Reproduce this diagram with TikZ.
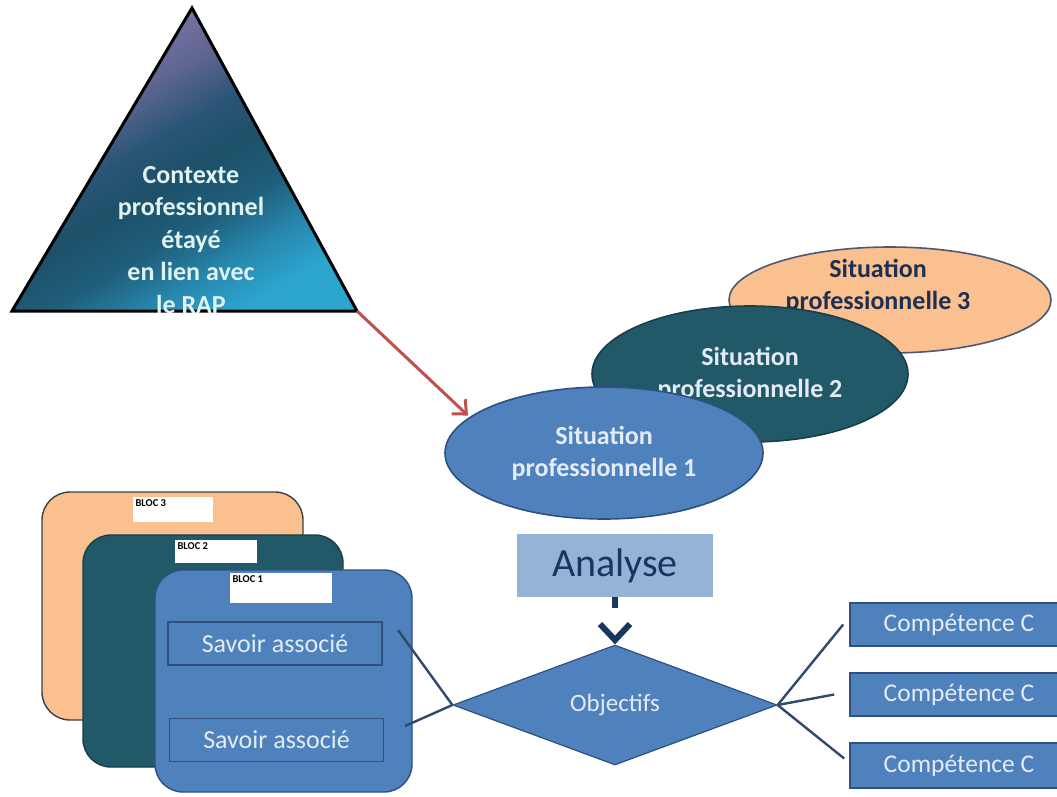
\documentclass[tikz,border=0pt]{standalone}
\usepackage{fontspec}
\setmainfont{Carlito}
\usetikzlibrary{shapes.geometric,arrows.meta}
\definecolor{orangeA}{HTML}{FAC090}
\definecolor{tealA}{HTML}{215968}
\definecolor{blueA}{HTML}{4F81BD}
\definecolor{blueB}{HTML}{2F5080}
\definecolor{lightA}{HTML}{95B3D7}
\definecolor{navyA}{HTML}{17375E}
\definecolor{navyB}{HTML}{1F2F50}
\definecolor{lineA}{HTML}{2F4A6B}
\definecolor{redA}{HTML}{C0504D}
\definecolor{txtA}{HTML}{E3ECF6}
\definecolor{txtTri}{HTML}{E0F2F2}
\definecolor{shA}{HTML}{2CA6CF}
\definecolor{shB}{HTML}{2889B0}
\definecolor{shC}{HTML}{1F5E7A}
\definecolor{shD}{HTML}{1D5069}
\definecolor{shE}{HTML}{2A5576}
\definecolor{shF}{HTML}{5F6690}
\definecolor{shG}{HTML}{7D74A8}
\definecolor{shH}{HTML}{8078AA}
\pgfdeclareverticalshading{trishade}{100bp}{color(0bp)=(shA); color(25bp)=(shA); color(32bp)=(shB); color(40bp)=(shC); color(48bp)=(shD); color(55bp)=(shE); color(63bp)=(shF); color(72bp)=(shG); color(75bp)=(shH); color(100bp)=(shH)}
\begin{document}
\begin{tikzpicture}[x=1pt,y=-1pt,
  ell/.style={ellipse, draw, line width=1.6pt, inner sep=0pt},
  etxt/.style={align=center, font=\bfseries\fontsize{26}{32}\selectfont},
  blocbox/.style={rectangle, rounded corners=28pt, line width=1.4pt, inner sep=0pt},
  blabel/.style={rectangle, fill=white, inner sep=0pt},
  btxt/.style={font=\bfseries\fontsize{10.5}{11}\selectfont, text=black, inner sep=2.5pt, anchor=north west},
  sbox/.style={rectangle, fill=blueA, draw=blueB, line width=1.6pt, inner sep=0pt, minimum width=214pt, minimum height=43pt, text=txtA, font=\fontsize{26}{30}\selectfont},
  cbox/.style={rectangle, fill=blueA, draw=blueB, line width=1.6pt, inner sep=0pt, minimum width=218pt, minimum height=43pt, text=txtA, font=\fontsize{25.5}{28}\selectfont},
  conn/.style={draw=lineA, line width=2.4pt}]
\useasboundingbox (0,0) rectangle (1057,796);
\clip (0,0) rectangle (1057,796);
\fill[white] (0,0) rectangle (1057,796);

% blocs
\node[blocbox, fill=orangeA, draw=black!75, minimum width=261pt, minimum height=228pt] (b3) at (172.5,606) {};
\node[blabel, minimum width=80pt, minimum height=25pt, label={[btxt]north west:BLOC 3}] (lab3) at (173,509.5) {};
\node[blocbox, fill=tealA, draw=tealA!70!black, minimum width=260pt, minimum height=232pt] (b2) at (213,651) {};
\node[blabel, minimum width=82pt, minimum height=23pt, label={[btxt]north west:BLOC 2}] (lab2) at (216,551.5) {};
\node[blocbox, fill=blueA, draw=blueB, minimum width=257pt, minimum height=222pt] (b1) at (283.5,681) {};
\node[blabel, minimum width=102pt, minimum height=30pt, label={[btxt]north west:BLOC 1}] (lab1) at (281,588) {};
\node[sbox] (sa1) at (275,643.5) {Savoir associé};
\node[sbox] (sa2) at (276.5,740) {Savoir associé};

% ellipses
\node[ell, fill=orangeA, draw=navyB!80, minimum width=322pt, minimum height=106pt] (e3) at (890,300) {};
\node[etxt, text=navyB] (e3t) at (878,286) {Situation\\professionnelle 3};
\node[ell, etxt, fill=tealA, draw=tealA!70!black, text=txtA, minimum width=316pt, minimum height=136pt] (e2) at (750,374) {Situation\\professionnelle 2};
\node[ell, etxt, fill=blueA, draw=blueB, text=txtA, minimum width=318pt, minimum height=132pt] (e1) at (604,453) {Situation\\professionnelle 1};

% triangle
\coordinate (triL) at (12,311);
\coordinate (triT) at (192,8);
\coordinate (triR) at (357,311);
\shade[shading=trishade, shading angle=30] (triL) -- (triT) -- (triR) -- cycle;
\draw[black, line width=3pt, line join=miter] (triL) -- (triT) -- (triR) -- cycle;
\node[align=center, text=txtTri, font=\bfseries\fontsize{26}{32.5}\selectfont] (tri) at (191,240) {Contexte\\professionnel\\étayé\\en lien avec\\le RAP};

\draw[redA, line width=3pt, -{Straight Barb[length=11pt, width=20pt]}, shorten >=2pt] (triR) -- (e1.165);

% analyse
\node[rectangle, fill=lightA, inner sep=0pt, minimum width=196pt, minimum height=63pt, text=navyA, font=\fontsize{40}{42}\selectfont] (an) at (615,565.5) {Analyse};

% objectifs
\coordinate (la) at (398,630);
\coordinate (lb) at (405,726);
\node[diamond, fill=blueA, draw=blueB, line width=1.2pt, minimum width=324pt, minimum height=120pt, inner sep=0pt, aspect=2.7, text=txtA, font=\fontsize{25}{28}\selectfont] (obj) at (615,705) {Objectifs};

\node[cbox] (c1) at (959,624.5) {Compétence C};
\node[cbox] (c2) at (959,694.5) {Compétence C};
\node[cbox, minimum height=45pt] (c3) at (959,765.5) {Compétence C};

\draw[conn] (obj.west) -- (la);
\draw[conn] (obj.west) -- (lb);
\draw[conn] (obj.east) -- ([xshift=-6pt]c1.west);
\draw[conn] (obj.east) -- ([xshift=-15pt]c2.west);
\draw[conn] (obj.east) -- ([xshift=-5pt,yshift=7pt]c3.west);

\draw[navyA, line width=6pt, dash pattern=on 11pt off 40pt, -{Straight Barb[length=16pt, width=30pt]}] (an.south) -- (obj.north);
\end{tikzpicture}
\end{document}
